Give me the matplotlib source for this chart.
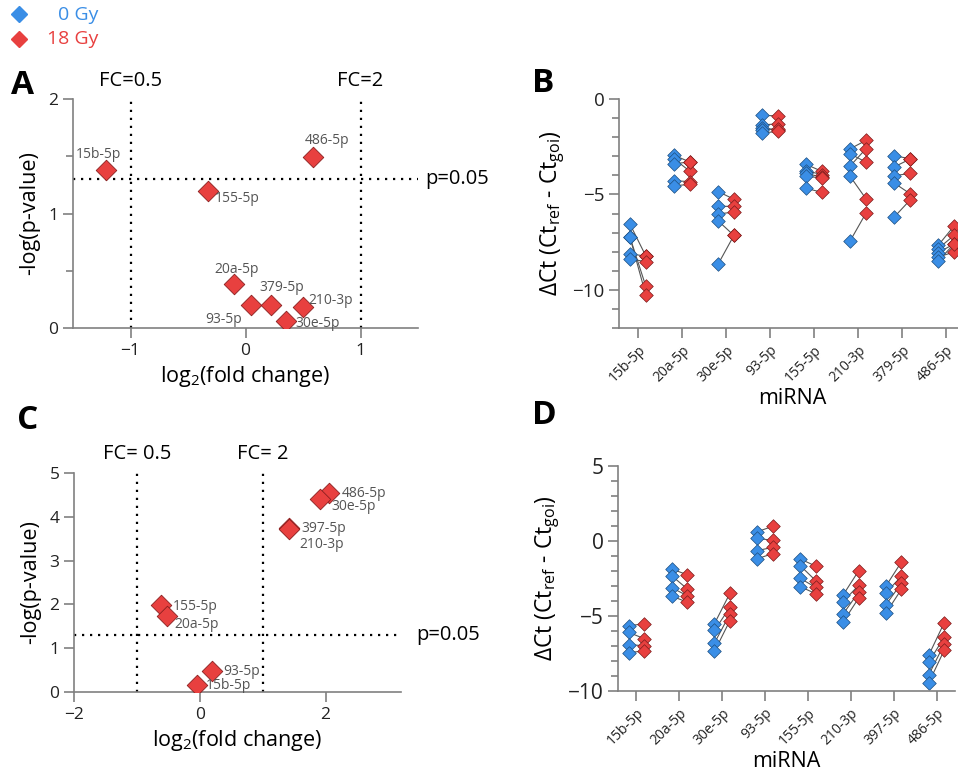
import numpy as np
import matplotlib
matplotlib.use("Agg")
import matplotlib.pyplot as plt
from matplotlib.ticker import MultipleLocator

plt.rcParams['font.family'] = ['Open Sans', 'DejaVu Sans']
plt.rcParams['mathtext.fontset'] = 'custom'
plt.rcParams['mathtext.rm'] = 'Open Sans'

BLUE = '#3a8ee6'
RED = '#e8403f'
SPINE = '#808080'
LABEL_GRAY = '#555555'

# ---------- data ----------
# Panel A: volcano (first comparison)
mir_a = ['15b-5p', '486-5p', '155-5p', '20a-5p', '93-5p', '379-5p', '210-3p', '30e-5p']
log2fc_a = [-1.21, 0.59, -0.33, -0.10, 0.05, 0.22, 0.50, 0.35]
nlogp_a = [1.38, 1.49, 1.20, 0.38, 0.20, 0.20, 0.18, 0.06]

# Panel C: volcano (second comparison)
mir_c = ['486-5p', '30e-5p', '397-5p', '210-3p', '155-5p', '20a-5p', '93-5p', '15b-5p']
log2fc_c = [2.06, 1.91, 1.42, 1.42, -0.62, -0.52, 0.19, -0.04]
nlogp_c = [4.54, 4.41, 3.75, 3.72, 1.98, 1.73, 0.48, 0.15]

# Panel B: paired dCt, 5 replicates per miRNA
cats_b = ['15b-5p', '20a-5p', '30e-5p', '93-5p', '155-5p', '210-3p', '379-5p', '486-5p']
b_0gy = [
    [-6.56, -7.25, -7.25, -8.12, -8.36],
    [-2.95, -3.13, -3.39, -4.28, -4.54],
    [-4.85, -5.63, -6.02, -6.38, -8.66],
    [-0.85, -1.36, -1.50, -1.62, -1.78],
    [-3.43, -3.76, -3.90, -4.05, -4.68],
    [-2.61, -2.87, -3.51, -4.05, -7.44],
    [-2.97, -3.56, -4.02, -4.40, -6.19],
    [-7.67, -7.84, -8.05, -8.28, -8.49],
]
b_18gy = [
    [-8.23, -9.82, -10.28, -8.23, -8.54],
    [-3.30, -3.79, -3.30, -4.33, -4.48],
    [-5.25, -5.62, -5.93, -7.15, -7.15],
    [-0.89, -1.30, -1.65, -1.55, -1.70],
    [-3.79, -3.96, -4.10, -4.14, -4.89],
    [-2.17, -3.31, -2.61, -5.23, -5.98],
    [-3.13, -3.15, -3.90, -4.96, -5.30],
    [-6.66, -7.15, -7.60, -8.02, -7.60],
]

# Panel D: paired dCt, 4 replicates per miRNA
cats_d = ['15b-5p', '20a-5p', '30e-5p', '93-5p', '155-5p', '210-3p', '397-5p', '486-5p']
d_0gy = [
    [-5.64, -6.09, -6.91, -7.44],
    [-1.87, -2.31, -3.11, -3.67],
    [-5.51, -5.96, -6.80, -7.36],
    [0.62, 0.18, -0.64, -1.18],
    [-1.20, -1.64, -2.49, -3.04],
    [-3.60, -4.04, -4.87, -5.40],
    [-3.00, -3.44, -4.24, -4.80],
    [-7.60, -8.07, -8.91, -9.44],
]
d_18gy = [
    [-5.53, -6.51, -6.98, -7.33],
    [-2.24, -3.18, -3.64, -4.07],
    [-3.49, -4.42, -4.87, -5.31],
    [0.98, 0.04, -0.42, -0.84],
    [-1.67, -2.64, -3.09, -3.51],
    [-2.00, -2.96, -3.42, -3.82],
    [-1.40, -2.36, -2.82, -3.22],
    [-5.44, -6.40, -6.87, -7.27],
]

# label placement (offset in pixels, alignment)
offs_a = {'15b-5p': (-8, 15, 'center'), '486-5p': (14, 17, 'center'),
          '155-5p': (30, -8, 'center'), '20a-5p': (3, 15, 'center'),
          '93-5p': (-28, -14, 'center'), '379-5p': (11, 18, 'center'),
          '210-3p': (28, 7, 'center'), '30e-5p': (32, -2, 'center')}
offs_c = {'486-5p': (12, 0), '30e-5p': (11, -8), '397-5p': (12, -1),
          '210-3p': (10, -15), '155-5p': (12, -1), '20a-5p': (7, -8),
          '93-5p': (12, -1), '15b-5p': (9, 0)}

W, H = 958, 776
fig = plt.figure(figsize=(W / 100, H / 100), dpi=100)


def px_axes(left, top, right, bottom):
    return fig.add_axes([left / W, 1 - bottom / H, (right - left) / W, (bottom - top) / H])


def style(ax):
    for s in ['top', 'right']:
        ax.spines[s].set_visible(False)
    for s in ['left', 'bottom']:
        ax.spines[s].set_color(SPINE)
        ax.spines[s].set_linewidth(1.2)
    ax.tick_params(which='both', direction='out', color=SPINE, width=1.2, labelcolor='#222222', labelsize=12.5)
    ax.tick_params(which='major', length=7)
    ax.tick_params(which='minor', length=5)


dot = (0, (1, 2.6))

# ---------- A ----------
ax = px_axes(73, 99, 418, 328)
style(ax)
ax.set_xlim(-1.5, 1.5)
ax.set_ylim(0, 2)
ax.set_xticks([-1, 0, 1])
ax.set_yticks([0, 1, 2])
ax.yaxis.set_minor_locator(MultipleLocator(0.5))
ax.axvline(-1, color='black', ls=dot, lw=1.6)
ax.axvline(1, color='black', ls=dot, lw=1.6)
ax.axhline(1.3, color='black', ls=dot, lw=1.6)
ax.scatter(log2fc_a, nlogp_a, marker='D', s=110, color=RED, edgecolor='#8a1f1f', linewidth=0.6, zorder=3)
for m, x, y in zip(mir_a, log2fc_a, nlogp_a):
    dx, dy, ha = offs_a[m]
    ax.annotate(m, (x, y), xytext=(dx, dy), textcoords='offset pixels', ha=ha, va='center',
                fontsize=10, color=LABEL_GRAY)
ax.text(-1, 2.07, 'FC=0.5', ha='center', va='bottom', fontsize=14.5)
ax.text(1, 2.07, 'FC=2', ha='center', va='bottom', fontsize=14.5)
ax.text(1.56, 1.3, 'p=0.05', ha='left', va='center', fontsize=14.5)
ax.set_ylabel('-log(p-value)', fontsize=15.5, labelpad=6)
ax.set_xlabel('log$_2$(fold change)', fontsize=15.5, labelpad=4)

# ---------- C ----------
ax = px_axes(74, 473, 401, 692)
style(ax)
ax.set_xlim(-2, 3.2)
ax.set_ylim(0, 5)
ax.set_xticks([-2, 0, 2])
ax.set_yticks([0, 1, 2, 3, 4, 5])
ax.axvline(-1, color='black', ls=dot, lw=1.6)
ax.axvline(1, color='black', ls=dot, lw=1.6)
ax.axhline(1.3, color='black', ls=dot, lw=1.6)
ax.scatter(log2fc_c, nlogp_c, marker='D', s=110, color=RED, edgecolor='#8a1f1f', linewidth=0.6, zorder=3)
for m, x, y in zip(mir_c, log2fc_c, nlogp_c):
    dx, dy = offs_c[m]
    ax.annotate(m, (x, y), xytext=(dx, dy), textcoords='offset pixels', ha='left', va='center',
                fontsize=10, color=LABEL_GRAY)
ax.text(-1, 5.2, 'FC= 0.5', ha='center', va='bottom', fontsize=14.5)
ax.text(1, 5.2, 'FC= 2', ha='center', va='bottom', fontsize=14.5)
ax.text(3.45, 1.3, 'p=0.05', ha='left', va='center', fontsize=14.5)
ax.set_ylabel('-log(p-value)', fontsize=15.5, labelpad=6)
ax.set_xlabel('log$_2$(fold change)', fontsize=15.5, labelpad=4)


# ---------- B and D ----------
def paired(ax, cats, g0, g18):
    style(ax)
    pos = np.arange(len(cats))
    for i in pos:
        xb = np.full(len(g0[i]), i - 0.18)
        xr = np.full(len(g18[i]), i + 0.18)
        for a, b in zip(g0[i], g18[i]):
            ax.plot([i - 0.18, i + 0.18], [a, b], color='#555555', lw=0.8, zorder=1)
        ax.scatter(xb, g0[i], marker='D', s=48, color=BLUE, edgecolor='#1d4f80', linewidth=0.5, zorder=2)
        ax.scatter(xr, g18[i], marker='D', s=48, color=RED, edgecolor='#7a1c1c', linewidth=0.5, zorder=2)
    ax.set_xlim(-0.43, len(cats) - 0.57)
    ax.set_xticks(pos)
    ax.set_xticklabels(cats, rotation=45, ha='right', rotation_mode='anchor', fontsize=10)
    ax.yaxis.set_minor_locator(MultipleLocator(1))
    ax.set_ylabel('$\\Delta$Ct (Ct$_{\\mathrm{ref}}$ - Ct$_{\\mathrm{goi}}$)', fontsize=16.5, labelpad=4)
    ax.set_xlabel('miRNA', fontsize=15.5, labelpad=2)


ax = px_axes(619, 99, 965, 328)
paired(ax, cats_b, b_0gy, b_18gy)
ax.set_ylim(-12, 0)
ax.set_yticks([0, -5, -10])
ax.tick_params(axis='y', labelsize=13.5)

ax = px_axes(618, 466, 955, 691)
paired(ax, cats_d, d_0gy, d_18gy)
ax.set_ylim(-10, 5)
ax.set_yticks([-10, -5, 0, 5])
ax.tick_params(axis='y', labelsize=15)

# ---------- panel letters and legend ----------
for lab, x, y in [('A', 11, 86), ('B', 532, 83), ('C', 17, 421), ('D', 532, 416)]:
    fig.text(x / W, 1 - y / H, lab, fontsize=24, fontweight='bold', va='center', ha='left')

fig.lines.append(plt.Line2D([19 / W], [1 - 14 / H], marker='D', color=BLUE, ms=8, ls='', transform=fig.transFigure))
fig.lines.append(plt.Line2D([19 / W], [1 - 39 / H], marker='D', color=RED, ms=8, ls='', transform=fig.transFigure))
fig.text(98 / W, 1 - 15 / H, '0 Gy', color=BLUE, fontsize=14, ha='right', va='center')
fig.text(98 / W, 1 - 39 / H, '18 Gy', color=RED, fontsize=14, ha='right', va='center')

fig.savefig('out.png', dpi=100)
